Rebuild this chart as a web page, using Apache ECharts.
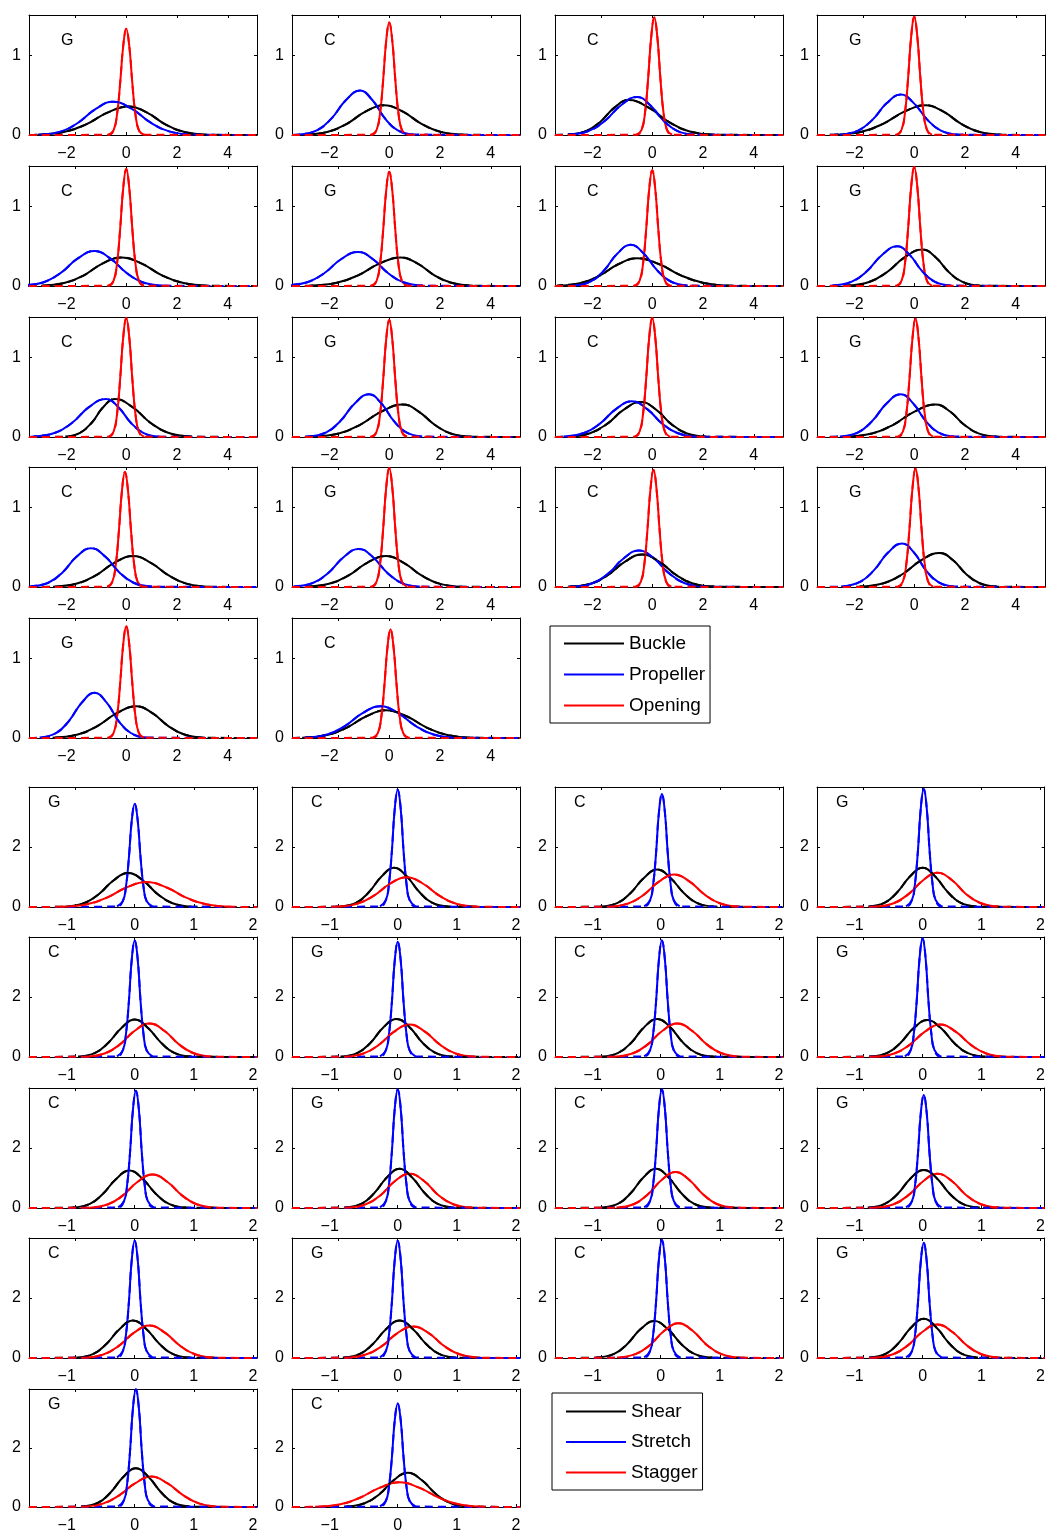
<!DOCTYPE html>
<html>
<head>
<meta charset="utf-8">
<script src="https://cdn.jsdelivr.net/npm/echarts@6/dist/echarts.min.js"></script>
<style>
html,body{margin:0;padding:0;background:#fff}
#chart{width:1048px;height:1534px}
</style>
</head>
<body>
<div id="chart"></div>
<script>
// Panel tags (reading order, 4 per row)
const topTags = ['G','C','C','G','C','G','C','G','C','G','C','G','C','G','C','G','G','C'];
const bottomTags = ['G','C','C','G','C','G','C','G','C','G','C','G','C','G','C','G','G','C'];

const topNames = ['Buckle', 'Propeller', 'Opening'];
const bottomNames = ['Shear', 'Stretch', 'Stagger'];

// Axis ranges and ticks
const topXRange = [-3.83, 5.15];
const topYRange = [0, 1.513];
const bottomXRange = [-1.79, 2.07];
const bottomYRange = [0, 4.0];
const topXTicks = [-2, 0, 2, 4];
const topYTicks = [0, 1];
const bottomXTicks = [-1, 0, 1, 2];
const bottomYTicks = [0, 2];

// Density curves, one [x, y] list per panel
const buckle = [
 [[-3.5,0.004],[-2.42,0.04],[-1.58,0.135],[-0.74,0.282],[0.1,0.36],[0.82,0.282],[1.54,0.135],[2.26,0.04],[3.19,0.004]],
 [[-3.35,0.004],[-2.41,0.041],[-1.67,0.141],[-0.94,0.294],[-0.2,0.375],[0.54,0.294],[1.27,0.141],[2.01,0.041],[2.95,0.004]],
 [[-3.33,0.005],[-2.61,0.048],[-2.05,0.165],[-1.49,0.345],[-0.93,0.44],[-0.14,0.345],[0.65,0.165],[1.44,0.048],[2.46,0.005]],
 [[-3.15,0.004],[-2.07,0.041],[-1.23,0.141],[-0.39,0.294],[0.45,0.375],[1.15,0.294],[1.85,0.141],[2.55,0.041],[3.45,0.004]],
 [[-3.35,0.004],[-2.41,0.04],[-1.67,0.135],[-0.94,0.282],[-0.2,0.36],[0.61,0.282],[1.41,0.135],[2.22,0.04],[3.25,0.004]],
 [[-3.15,0.004],[-2.07,0.04],[-1.23,0.135],[-0.39,0.282],[0.45,0.36],[1.12,0.282],[1.78,0.135],[2.45,0.04],[3.3,0.004]],
 [[-3.75,0.004],[-2.81,0.039],[-2.07,0.131],[-1.34,0.274],[-0.6,0.35],[0.28,0.274],[1.15,0.131],[2.03,0.039],[3.15,0.004]],
 [[-2.68,0.005],[-1.78,0.051],[-1.08,0.173],[-0.38,0.36],[0.32,0.46],[0.85,0.36],[1.37,0.173],[1.9,0.051],[2.57,0.005]],
 [[-2.4,0.005],[-1.82,0.053],[-1.36,0.18],[-0.91,0.376],[-0.45,0.48],[0.25,0.376],[0.95,0.18],[1.65,0.053],[2.55,0.005]],
 [[-3.07,0.005],[-1.99,0.045],[-1.15,0.154],[-0.31,0.321],[0.53,0.41],[1.16,0.321],[1.79,0.154],[2.42,0.045],[3.23,0.005]],
 [[-3.3,0.005],[-2.45,0.048],[-1.78,0.165],[-1.12,0.345],[-0.45,0.44],[0.15,0.345],[0.74,0.165],[1.34,0.048],[2.1,0.005]],
 [[-2.75,0.005],[-1.67,0.045],[-0.83,0.154],[0.01,0.321],[0.85,0.41],[1.41,0.321],[1.97,0.154],[2.53,0.045],[3.25,0.005]],
 [[-2.88,0.004],[-1.94,0.043],[-1.2,0.146],[-0.47,0.305],[0.27,0.39],[0.97,0.305],[1.67,0.146],[2.37,0.043],[3.27,0.004]],
 [[-3.28,0.004],[-2.34,0.043],[-1.6,0.146],[-0.87,0.305],[-0.13,0.39],[0.57,0.305],[1.27,0.146],[1.97,0.043],[2.87,0.004]],
 [[-3.25,0.005],[-2.4,0.045],[-1.73,0.154],[-1.07,0.321],[-0.4,0.41],[0.27,0.321],[0.93,0.154],[1.6,0.045],[2.45,0.005]],
 [[-2.15,0.005],[-1.21,0.047],[-0.47,0.161],[0.27,0.337],[1.0,0.43],[1.53,0.337],[2.05,0.161],[2.58,0.047],[3.25,0.005]],
 [[-2.9,0.004],[-1.91,0.044],[-1.14,0.15],[-0.37,0.313],[0.4,0.4],[1.03,0.313],[1.66,0.15],[2.29,0.044],[3.1,0.004]],
 [[-3.43,0.004],[-2.44,0.039],[-1.67,0.131],[-0.9,0.274],[-0.13,0.35],[0.68,0.274],[1.48,0.131],[2.29,0.039],[3.32,0.004]]
];

const propeller = [
 [[-3.43,0.005],[-2.56,0.046],[-1.88,0.158],[-1.2,0.329],[-0.52,0.42],[0.22,0.329],[0.95,0.158],[1.69,0.046],[2.63,0.005]],
 [[-3.55,0.006],[-2.83,0.062],[-2.27,0.21],[-1.71,0.438],[-1.15,0.56],[-0.66,0.438],[-0.17,0.21],[0.32,0.062],[0.95,0.006]],
 [[-3.3,0.005],[-2.49,0.053],[-1.86,0.18],[-1.23,0.376],[-0.6,0.48],[-0.08,0.376],[0.45,0.18],[0.98,0.053],[1.65,0.005]],
 [[-2.93,0.006],[-2.21,0.056],[-1.65,0.191],[-1.09,0.399],[-0.53,0.51],[-0.01,0.399],[0.52,0.191],[1.05,0.056],[1.72,0.006]],
 [[-4.1,0.005],[-3.25,0.048],[-2.58,0.165],[-1.92,0.345],[-1.25,0.44],[-0.62,0.345],[0.01,0.165],[0.64,0.048],[1.45,0.005]],
 [[-4.08,0.005],[-3.23,0.047],[-2.56,0.161],[-1.9,0.337],[-1.23,0.43],[-0.64,0.337],[-0.04,0.161],[0.56,0.047],[1.32,0.005]],
 [[-3.1,0.006],[-2.43,0.057],[-1.9,0.195],[-1.38,0.407],[-0.85,0.52],[-0.33,0.407],[0.2,0.195],[0.73,0.057],[1.4,0.006]],
 [[-3.22,0.006],[-2.46,0.055],[-1.86,0.188],[-1.27,0.392],[-0.67,0.5],[-0.18,0.392],[0.31,0.188],[0.8,0.055],[1.43,0.006]],
 [[-3.65,0.005],[-2.8,0.053],[-2.13,0.18],[-1.47,0.376],[-0.8,0.48],[-0.31,0.376],[0.18,0.18],[0.67,0.053],[1.3,0.005]],
 [[-3.2,0.006],[-2.48,0.059],[-1.92,0.203],[-1.36,0.423],[-0.8,0.54],[-0.31,0.423],[0.18,0.203],[0.67,0.059],[1.3,0.006]],
 [[-3.5,0.005],[-2.69,0.05],[-2.06,0.169],[-1.43,0.352],[-0.8,0.45],[-0.2,0.352],[0.39,0.169],[0.99,0.05],[1.75,0.005]],
 [[-2.93,0.006],[-2.21,0.059],[-1.65,0.203],[-1.09,0.423],[-0.53,0.54],[-0.04,0.423],[0.45,0.203],[0.94,0.059],[1.57,0.006]],
 [[-3.79,0.005],[-3.07,0.054],[-2.51,0.184],[-1.95,0.384],[-1.39,0.49],[-0.83,0.384],[-0.27,0.184],[0.29,0.054],[1.01,0.005]],
 [[-3.75,0.005],[-2.99,0.053],[-2.39,0.18],[-1.8,0.376],[-1.2,0.48],[-0.64,0.376],[-0.08,0.18],[0.48,0.053],[1.2,0.005]],
 [[-3.08,0.005],[-2.32,0.051],[-1.72,0.173],[-1.13,0.36],[-0.53,0.46],[0.07,0.36],[0.66,0.173],[1.26,0.051],[2.02,0.005]],
 [[-2.88,0.006],[-2.16,0.061],[-1.6,0.206],[-1.04,0.431],[-0.48,0.55],[0.0,0.431],[0.47,0.206],[0.95,0.061],[1.56,0.006]],
 [[-3.41,0.006],[-2.76,0.063],[-2.26,0.214],[-1.75,0.446],[-1.25,0.57],[-0.77,0.446],[-0.3,0.214],[0.18,0.063],[0.79,0.006]],
 [[-3.35,0.004],[-2.45,0.044],[-1.75,0.15],[-1.05,0.313],[-0.35,0.4],[0.35,0.313],[1.05,0.15],[1.75,0.044],[2.65,0.004]]
];

const opening = [
 [[-0.7,0.003],[-0.5,0.059],[-0.36,0.265],[-0.24,0.653],[-0.12,1.119],[0,1.34],[0.12,1.119],[0.24,0.653],[0.36,0.265],[0.5,0.059],[0.7,0.003]],
 [[-0.7,0.003],[-0.5,0.062],[-0.36,0.281],[-0.24,0.692],[-0.12,1.186],[0,1.42],[0.12,1.186],[0.24,0.692],[0.36,0.281],[0.5,0.062],[0.7,0.003]],
 [[-0.62,0.003],[-0.42,0.065],[-0.28,0.293],[-0.16,0.721],[-0.04,1.236],[0.08,1.48],[0.2,1.236],[0.32,0.721],[0.44,0.293],[0.58,0.065],[0.78,0.003]],
 [[-0.7,0.003],[-0.5,0.066],[-0.36,0.295],[-0.24,0.726],[-0.12,1.244],[0,1.49],[0.12,1.244],[0.24,0.726],[0.36,0.295],[0.5,0.066],[0.7,0.003]],
 [[-0.7,0.003],[-0.5,0.065],[-0.36,0.292],[-0.24,0.718],[-0.12,1.232],[0,1.475],[0.12,1.232],[0.24,0.718],[0.36,0.292],[0.5,0.065],[0.7,0.003]],
 [[-0.7,0.003],[-0.5,0.063],[-0.36,0.285],[-0.24,0.701],[-0.12,1.202],[0,1.44],[0.12,1.202],[0.24,0.701],[0.36,0.285],[0.5,0.063],[0.7,0.003]],
 [[-0.7,0.003],[-0.5,0.064],[-0.36,0.289],[-0.24,0.711],[-0.12,1.219],[0,1.46],[0.12,1.219],[0.24,0.711],[0.36,0.289],[0.5,0.064],[0.7,0.003]],
 [[-0.7,0.003],[-0.5,0.066],[-0.36,0.297],[-0.24,0.731],[-0.12,1.253],[0,1.5],[0.12,1.253],[0.24,0.731],[0.36,0.297],[0.5,0.066],[0.7,0.003]],
 [[-0.7,0.003],[-0.5,0.066],[-0.36,0.297],[-0.24,0.731],[-0.12,1.253],[0,1.5],[0.12,1.253],[0.24,0.731],[0.36,0.297],[0.5,0.066],[0.7,0.003]],
 [[-0.7,0.003],[-0.5,0.065],[-0.36,0.292],[-0.24,0.718],[-0.12,1.232],[0,1.475],[0.12,1.232],[0.24,0.718],[0.36,0.292],[0.5,0.065],[0.7,0.003]],
 [[-0.7,0.003],[-0.5,0.066],[-0.36,0.297],[-0.24,0.731],[-0.12,1.253],[0,1.5],[0.12,1.253],[0.24,0.731],[0.36,0.297],[0.5,0.066],[0.7,0.003]],
 [[-0.65,0.003],[-0.45,0.066],[-0.31,0.295],[-0.19,0.726],[-0.07,1.244],[0.05,1.49],[0.17,1.244],[0.29,0.726],[0.41,0.295],[0.55,0.066],[0.75,0.003]],
 [[-0.75,0.003],[-0.55,0.064],[-0.41,0.287],[-0.29,0.706],[-0.17,1.211],[-0.05,1.45],[0.07,1.211],[0.19,0.706],[0.31,0.287],[0.45,0.064],[0.65,0.003]],
 [[-0.7,0.003],[-0.5,0.066],[-0.36,0.297],[-0.24,0.731],[-0.12,1.253],[0,1.5],[0.12,1.253],[0.24,0.731],[0.36,0.297],[0.5,0.066],[0.7,0.003]],
 [[-0.65,0.003],[-0.45,0.065],[-0.31,0.292],[-0.19,0.718],[-0.07,1.232],[0.05,1.475],[0.17,1.232],[0.29,0.718],[0.41,0.292],[0.55,0.065],[0.75,0.003]],
 [[-0.65,0.003],[-0.45,0.066],[-0.31,0.295],[-0.19,0.726],[-0.07,1.244],[0.05,1.49],[0.17,1.244],[0.29,0.726],[0.41,0.295],[0.55,0.066],[0.75,0.003]],
 [[-0.7,0.003],[-0.5,0.062],[-0.36,0.279],[-0.24,0.687],[-0.12,1.177],[0,1.41],[0.12,1.177],[0.24,0.687],[0.36,0.279],[0.5,0.062],[0.7,0.003]],
 [[-0.65,0.003],[-0.45,0.06],[-0.31,0.271],[-0.19,0.667],[-0.07,1.144],[0.05,1.37],[0.17,1.144],[0.29,0.667],[0.41,0.271],[0.55,0.06],[0.75,0.003]]
];

const shear = [
 [[-1.18,0.012],[-0.86,0.124],[-0.61,0.424],[-0.36,0.885],[-0.11,1.13],[0.14,0.885],[0.39,0.424],[0.64,0.124],[0.96,0.012]],
 [[-0.98,0.014],[-0.7,0.144],[-0.49,0.491],[-0.27,1.026],[-0.06,1.31],[0.15,1.026],[0.37,0.491],[0.58,0.144],[0.86,0.014]],
 [[-1.02,0.014],[-0.73,0.138],[-0.51,0.469],[-0.28,0.979],[-0.06,1.25],[0.16,0.979],[0.39,0.469],[0.61,0.138],[0.9,0.014]],
 [[-0.92,0.014],[-0.64,0.144],[-0.43,0.491],[-0.21,1.026],[0,1.31],[0.21,1.026],[0.43,0.491],[0.64,0.144],[0.92,0.014]],
 [[-0.96,0.014],[-0.67,0.138],[-0.45,0.469],[-0.22,0.979],[0,1.25],[0.22,0.979],[0.45,0.469],[0.67,0.138],[0.96,0.014]],
 [[-0.97,0.014],[-0.68,0.14],[-0.46,0.476],[-0.24,0.994],[-0.02,1.27],[0.2,0.994],[0.42,0.476],[0.64,0.14],[0.93,0.014]],
 [[-1.0,0.014],[-0.72,0.14],[-0.5,0.476],[-0.28,0.994],[-0.06,1.27],[0.16,0.994],[0.38,0.476],[0.6,0.14],[0.89,0.014]],
 [[-0.9,0.014],[-0.6,0.135],[-0.38,0.461],[-0.15,0.963],[0.08,1.23],[0.31,0.963],[0.54,0.461],[0.76,0.135],[1.06,0.014]],
 [[-1.05,0.014],[-0.76,0.138],[-0.54,0.469],[-0.31,0.979],[-0.09,1.25],[0.13,0.979],[0.36,0.469],[0.58,0.138],[0.87,0.014]],
 [[-0.89,0.014],[-0.61,0.144],[-0.4,0.491],[-0.18,1.026],[0.03,1.31],[0.24,1.026],[0.46,0.491],[0.67,0.144],[0.95,0.014]],
 [[-1.0,0.014],[-0.72,0.144],[-0.51,0.491],[-0.29,1.026],[-0.08,1.31],[0.13,1.026],[0.35,0.491],[0.56,0.144],[0.84,0.014]],
 [[-0.93,0.014],[-0.64,0.14],[-0.42,0.476],[-0.2,0.994],[0.02,1.27],[0.24,0.994],[0.46,0.476],[0.68,0.14],[0.97,0.014]],
 [[-0.99,0.014],[-0.7,0.138],[-0.48,0.469],[-0.25,0.979],[-0.03,1.25],[0.19,0.979],[0.42,0.469],[0.64,0.138],[0.93,0.014]],
 [[-0.93,0.014],[-0.64,0.138],[-0.42,0.469],[-0.19,0.979],[0.03,1.25],[0.25,0.979],[0.48,0.469],[0.7,0.138],[0.99,0.014]],
 [[-1.09,0.014],[-0.79,0.135],[-0.57,0.461],[-0.34,0.963],[-0.11,1.23],[0.12,0.963],[0.35,0.461],[0.57,0.135],[0.87,0.014]],
 [[-0.9,0.014],[-0.62,0.144],[-0.41,0.491],[-0.19,1.026],[0.02,1.31],[0.23,1.026],[0.45,0.491],[0.66,0.144],[0.94,0.014]],
 [[-0.9,0.014],[-0.62,0.144],[-0.41,0.491],[-0.19,1.026],[0.02,1.31],[0.23,1.026],[0.45,0.491],[0.66,0.144],[0.94,0.014]],
 [[-0.87,0.013],[-0.56,0.128],[-0.31,0.435],[-0.07,0.908],[0.17,1.16],[0.41,0.908],[0.65,0.435],[0.9,0.128],[1.21,0.013]]
];

const stretch = [
 [[-0.3,0.017],[-0.2,0.206],[-0.15,0.654],[-0.1,1.617],[-0.05,2.89],[0,3.44],[0.05,2.89],[0.1,1.617],[0.15,0.654],[0.2,0.206],[0.3,0.017]],
 [[-0.3,0.02],[-0.2,0.235],[-0.15,0.743],[-0.1,1.838],[-0.05,3.284],[0,3.91],[0.05,3.284],[0.1,1.838],[0.15,0.743],[0.2,0.235],[0.3,0.02]],
 [[-0.28,0.019],[-0.18,0.226],[-0.13,0.716],[-0.08,1.772],[-0.03,3.167],[0.02,3.77],[0.07,3.167],[0.12,1.772],[0.17,0.716],[0.22,0.226],[0.32,0.019]],
 [[-0.28,0.02],[-0.18,0.236],[-0.13,0.747],[-0.08,1.847],[-0.03,3.301],[0.02,3.93],[0.07,3.301],[0.12,1.847],[0.17,0.747],[0.22,0.236],[0.32,0.02]],
 [[-0.3,0.019],[-0.2,0.233],[-0.15,0.737],[-0.1,1.824],[-0.05,3.259],[0,3.88],[0.05,3.259],[0.1,1.824],[0.15,0.737],[0.2,0.233],[0.3,0.019]],
 [[-0.3,0.019],[-0.2,0.23],[-0.15,0.73],[-0.1,1.805],[-0.05,3.226],[0,3.84],[0.05,3.226],[0.1,1.805],[0.15,0.73],[0.2,0.23],[0.3,0.019]],
 [[-0.28,0.019],[-0.18,0.233],[-0.13,0.737],[-0.08,1.824],[-0.03,3.259],[0.02,3.88],[0.07,3.259],[0.12,1.824],[0.17,0.737],[0.22,0.233],[0.32,0.019]],
 [[-0.3,0.02],[-0.2,0.237],[-0.15,0.751],[-0.1,1.857],[-0.05,3.318],[0,3.95],[0.05,3.318],[0.1,1.857],[0.15,0.751],[0.2,0.237],[0.3,0.02]],
 [[-0.28,0.02],[-0.18,0.235],[-0.13,0.743],[-0.08,1.838],[-0.03,3.284],[0.02,3.91],[0.07,3.284],[0.12,1.838],[0.17,0.743],[0.22,0.235],[0.32,0.02]],
 [[-0.3,0.02],[-0.2,0.237],[-0.15,0.751],[-0.1,1.857],[-0.05,3.318],[0,3.95],[0.05,3.318],[0.1,1.857],[0.15,0.751],[0.2,0.237],[0.3,0.02]],
 [[-0.28,0.02],[-0.18,0.237],[-0.13,0.751],[-0.08,1.857],[-0.03,3.318],[0.02,3.95],[0.07,3.318],[0.12,1.857],[0.17,0.751],[0.22,0.237],[0.32,0.02]],
 [[-0.28,0.019],[-0.18,0.226],[-0.13,0.716],[-0.08,1.772],[-0.03,3.167],[0.02,3.77],[0.07,3.167],[0.12,1.772],[0.17,0.716],[0.22,0.226],[0.32,0.019]],
 [[-0.3,0.02],[-0.2,0.235],[-0.15,0.743],[-0.1,1.838],[-0.05,3.284],[0,3.91],[0.05,3.284],[0.1,1.838],[0.15,0.743],[0.2,0.235],[0.3,0.02]],
 [[-0.3,0.02],[-0.2,0.235],[-0.15,0.743],[-0.1,1.838],[-0.05,3.284],[0,3.91],[0.05,3.284],[0.1,1.838],[0.15,0.743],[0.2,0.235],[0.3,0.02]],
 [[-0.28,0.02],[-0.18,0.236],[-0.13,0.747],[-0.08,1.847],[-0.03,3.301],[0.02,3.93],[0.07,3.301],[0.12,1.847],[0.17,0.747],[0.22,0.236],[0.32,0.02]],
 [[-0.28,0.019],[-0.18,0.23],[-0.13,0.73],[-0.08,1.805],[-0.03,3.226],[0.02,3.84],[0.07,3.226],[0.12,1.805],[0.17,0.73],[0.22,0.23],[0.32,0.019]],
 [[-0.28,0.02],[-0.18,0.239],[-0.13,0.758],[-0.08,1.875],[-0.03,3.352],[0.02,3.99],[0.07,3.352],[0.12,1.875],[0.17,0.758],[0.22,0.239],[0.32,0.02]],
 [[-0.3,0.018],[-0.2,0.211],[-0.15,0.667],[-0.1,1.65],[-0.05,2.948],[0,3.51],[0.05,2.948],[0.1,1.65],[0.15,0.667],[0.2,0.211],[0.3,0.018]]
];

const stagger = [
 [[-1.24,0.009],[-0.81,0.091],[-0.47,0.311],[-0.14,0.65],[0.2,0.83],[0.54,0.65],[0.87,0.311],[1.21,0.091],[1.64,0.009]],
 [[-1.05,0.011],[-0.69,0.109],[-0.41,0.371],[-0.13,0.775],[0.15,0.99],[0.43,0.775],[0.71,0.371],[0.99,0.109],[1.35,0.011]],
 [[-0.88,0.012],[-0.55,0.119],[-0.29,0.405],[-0.03,0.846],[0.23,1.08],[0.49,0.846],[0.75,0.405],[1.01,0.119],[1.34,0.012]],
 [[-0.8,0.013],[-0.49,0.125],[-0.24,0.428],[0.01,0.893],[0.25,1.14],[0.5,0.893],[0.74,0.428],[0.99,0.125],[1.3,0.013]],
 [[-0.82,0.012],[-0.5,0.123],[-0.25,0.42],[0,0.877],[0.25,1.12],[0.5,0.877],[0.75,0.42],[1.0,0.123],[1.32,0.012]],
 [[-0.91,0.012],[-0.58,0.119],[-0.32,0.405],[-0.06,0.846],[0.2,1.08],[0.46,0.846],[0.72,0.405],[0.98,0.119],[1.31,0.012]],
 [[-0.79,0.012],[-0.47,0.123],[-0.22,0.42],[0.03,0.877],[0.28,1.12],[0.53,0.877],[0.78,0.42],[1.03,0.123],[1.35,0.012]],
 [[-0.81,0.012],[-0.48,0.119],[-0.22,0.405],[0.04,0.846],[0.3,1.08],[0.56,0.846],[0.82,0.405],[1.08,0.119],[1.41,0.012]],
 [[-0.77,0.012],[-0.45,0.123],[-0.2,0.42],[0.05,0.877],[0.3,1.12],[0.55,0.877],[0.8,0.42],[1.05,0.123],[1.37,0.012]],
 [[-0.85,0.013],[-0.54,0.125],[-0.29,0.428],[-0.05,0.893],[0.2,1.14],[0.45,0.893],[0.69,0.428],[0.94,0.125],[1.25,0.013]],
 [[-0.75,0.013],[-0.45,0.132],[-0.22,0.45],[0.02,0.94],[0.25,1.2],[0.48,0.94],[0.72,0.45],[0.95,0.132],[1.25,0.013]],
 [[-0.8,0.013],[-0.49,0.125],[-0.24,0.428],[0.01,0.893],[0.25,1.14],[0.5,0.893],[0.74,0.428],[0.99,0.125],[1.3,0.013]],
 [[-0.86,0.012],[-0.53,0.119],[-0.27,0.405],[-0.01,0.846],[0.25,1.08],[0.51,0.846],[0.77,0.405],[1.03,0.119],[1.36,0.012]],
 [[-0.88,0.012],[-0.54,0.116],[-0.27,0.394],[-0.01,0.822],[0.26,1.05],[0.53,0.822],[0.79,0.394],[1.06,0.116],[1.4,0.012]],
 [[-0.74,0.013],[-0.43,0.128],[-0.18,0.435],[0.06,0.908],[0.3,1.16],[0.54,0.908],[0.78,0.435],[1.03,0.128],[1.34,0.013]],
 [[-0.82,0.012],[-0.5,0.123],[-0.25,0.42],[0,0.877],[0.25,1.12],[0.5,0.877],[0.75,0.42],[1.0,0.123],[1.32,0.012]],
 [[-0.89,0.011],[-0.54,0.113],[-0.27,0.386],[0.01,0.806],[0.28,1.03],[0.55,0.806],[0.83,0.386],[1.1,0.113],[1.45,0.011]],
 [[-1.4,0.009],[-0.97,0.092],[-0.64,0.315],[-0.3,0.658],[0.03,0.84],[0.36,0.658],[0.7,0.315],[1.03,0.092],[1.46,0.009]]
];

// ---------------------------------------------------------------------------
// Layout
const colLeft = [29, 292, 555, 817];
const topRowTop = [15, 166, 317, 467, 618];
const bottomRowTop = [787, 937, 1088, 1238, 1389];
const panelW = 228, panelH = 120;
const lineColors = ['#000000', '#0000ff', '#ff0000'];
const FONT = '"Liberation Sans", Arial, Helvetica, sans-serif';

// negative tick labels sit left of their tick (right padding shifts them)
const fmt = v => (v < 0 ? '{neg|\u2212' + Math.abs(v) + '}' : '{pos|' + v + '}');
const labelRich = {
  neg: { fontSize: 16, fontFamily: FONT, color: '#000', padding: [0, 18, 0, 0] },
  pos: { fontSize: 16, fontFamily: FONT, color: '#000' }
};

const grids = [], xAxes = [], yAxes = [], series = [], graphics = [];

function axisDef(gridIndex, range, ticks, withLabels, position, labelMargin) {
  return {
    type: 'value', gridIndex, min: range[0], max: range[1], position,
    axisLine: { show: true, onZero: false, lineStyle: { color: '#000', width: 1 } },
    splitLine: { show: false },
    axisTick: { show: true, inside: true, length: 3, customValues: ticks, lineStyle: { color: '#000', width: 1 } },
    axisLabel: {
      show: withLabels, customValues: ticks, formatter: fmt, rich: labelRich,
      fontSize: 16, color: '#000', fontFamily: FONT, margin: labelMargin
    }
  };
}

function addGroup(curves, names, tags, rowTops, xr, yr, xt, yt, tagDx, tagDy) {
  for (let i = 0; i < 18; i++) {
    const r = Math.floor(i / 4), c = i % 4;
    const g = grids.length;
    grids.push({ left: colLeft[c], top: rowTops[r], width: panelW, height: panelH, containLabel: false });
    const xi = xAxes.length;
    xAxes.push(axisDef(g, xr, xt, true, 'bottom', 11));
    xAxes.push(axisDef(g, xr, xt, false, 'top', 8));
    const yi = yAxes.length;
    yAxes.push(axisDef(g, yr, yt, true, 'left', 8));
    yAxes.push(axisDef(g, yr, yt, false, 'right', 8));

    // solid estimates
    curves.forEach((set, s) => {
      series.push({
        type: 'line', name: names[s], xAxisIndex: xi, yAxisIndex: yi,
        data: set[i], smooth: 0.45, symbol: 'none', showSymbol: false,
        lineStyle: { color: lineColors[s], width: 2 }, itemStyle: { color: lineColors[s] },
        silent: true, clip: true
      });
    });
    // dashed estimates, running along the whole axis
    curves.forEach((set, s) => {
      series.push({
        type: 'line', name: names[s], xAxisIndex: xi, yAxisIndex: yi,
        data: [[xr[0], 0]].concat(set[i], [[xr[1], 0]]),
        smooth: 0.45, symbol: 'none', showSymbol: false,
        lineStyle: { color: lineColors[s], width: 2, type: [8, 5] }, itemStyle: { color: lineColors[s] },
        silent: true, clip: true
      });
    });

    graphics.push({
      type: 'text', x: colLeft[c] + tagDx, y: rowTops[r] + tagDy, silent: true,
      style: { text: tags[i], fill: '#000', font: '16px ' + FONT, align: 'left', verticalAlign: 'middle' }
    });
  }
}

addGroup([buckle, propeller, opening], topNames, topTags, topRowTop,
         topXRange, topYRange, topXTicks, topYTicks, 32, 26);
addGroup([shear, stretch, stagger], bottomNames, bottomTags, bottomRowTop,
         bottomXRange, bottomYRange, bottomXTicks, bottomYTicks, 19, 16);

function legendBox(names, left, top, gap, pad) {
  return {
    data: names, orient: 'vertical', left, top,
    icon: 'path://M0 0H60V2H0Z',
    itemWidth: 60, itemHeight: 19, itemGap: gap,
    padding: pad,
    borderColor: '#000', borderWidth: 1, backgroundColor: '#fff',
    selectedMode: false,
    textStyle: { fontSize: 19, color: '#000', fontFamily: FONT }
  };
}

const chart = echarts.init(document.getElementById('chart'), null, { renderer: 'canvas' });
chart.setOption({
  backgroundColor: '#ffffff',
  animation: false,
  grid: grids,
  xAxis: xAxes,
  yAxis: yAxes,
  series,
  legend: [
    legendBox(topNames, 550, 626, 12, [8, 5, 8, 14]),
    legendBox(bottomNames, 552, 1393, 11.5, [9, 5, 8, 14])
  ],
  graphic: graphics
});
</script>
</body>
</html>
